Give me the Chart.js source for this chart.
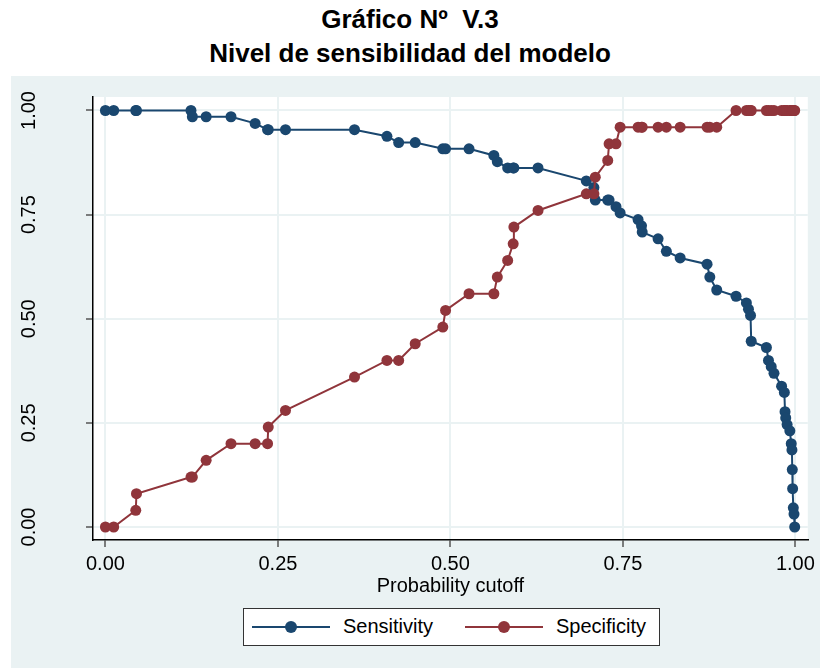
<!DOCTYPE html>
<html>
<head>
<meta charset="utf-8">
<script src="https://cdn.jsdelivr.net/npm/chart.js@4.4.1/dist/chart.umd.min.js"></script>
<style>
  html, body { margin: 0; padding: 0; background: #ffffff; }
  body { width: 820px; height: 668px; position: relative; overflow: hidden;
         font-family: "Liberation Sans", Arial, sans-serif; }
  #panel { position: absolute; left: 11px; top: 76px; width: 809px; height: 592px; background: #eaf2f3; }
  #title { position: absolute; left: 0; top: 2px; width: 820px; text-align: center;
           font-weight: bold; font-size: 26px; line-height: 34px; color: #000; }
  #chartBox { position: absolute; left: 0; top: 0; width: 820px; height: 668px; }
  #legend { position: absolute; left: 243px; top: 608px; width: 415px; height: 36px;
            background: #fff; border: 1px solid #333; }
  .key { position: absolute; top: 17px; width: 78px; height: 2px; }
  .dot { position: absolute; top: -5px; left: 33px; width: 12px; height: 12px; border-radius: 50%; }
  .lab { position: absolute; top: 5px; font-size: 20px; line-height: 24px; color: #000; }
</style>
</head>
<body>
<div id="panel"></div>
<div id="title">Gráfico Nº&nbsp; V.3<br>Nivel de sensibilidad del modelo</div>
<div id="chartBox"><canvas id="lsens" width="820" height="668"></canvas></div>
<div id="legend">
  <div class="key" style="left:8px;background:#1a476f"><div class="dot" style="background:#1a476f"></div></div>
  <div class="lab" style="left:99px">Sensitivity</div>
  <div class="key" style="left:221px;background:#90353b"><div class="dot" style="background:#90353b"></div></div>
  <div class="lab" style="left:312px">Specificity</div>
</div>
<script>
// probability cutoffs and the two curves
var cutoff = [0.000, 0.012, 0.044, 0.045, 0.124, 0.126, 0.146, 0.182, 0.217, 0.235,
              0.236, 0.261, 0.361, 0.408, 0.425, 0.449, 0.489, 0.493, 0.527, 0.563,
              0.568, 0.583, 0.591, 0.592, 0.627, 0.697, 0.708, 0.710, 0.728, 0.730,
              0.740, 0.746, 0.772, 0.777, 0.778, 0.801, 0.813, 0.833, 0.872, 0.876,
              0.886, 0.914, 0.929, 0.932, 0.935, 0.936, 0.958, 0.961, 0.965, 0.969,
              0.980, 0.984, 0.985, 0.986, 0.988, 0.992, 0.994, 0.995, 0.9955, 0.996,
              0.997, 0.998, 0.999];
var sensitivity = [1.000, 1.000, 1.000, 1.000, 1.000, 0.985, 0.985, 0.985, 0.969, 0.954,
              0.954, 0.954, 0.954, 0.938, 0.923, 0.923, 0.908, 0.908, 0.908, 0.892,
              0.877, 0.862, 0.862, 0.862, 0.862, 0.831, 0.815, 0.785, 0.785, 0.785,
              0.769, 0.754, 0.738, 0.723, 0.708, 0.692, 0.662, 0.646, 0.631, 0.600,
              0.569, 0.554, 0.538, 0.523, 0.508, 0.446, 0.431, 0.400, 0.385, 0.369,
              0.338, 0.323, 0.277, 0.262, 0.246, 0.231, 0.200, 0.185, 0.138, 0.092,
              0.046, 0.031, 0.000];
var specificity = [0.00, 0.00, 0.04, 0.08, 0.12, 0.12, 0.16, 0.20, 0.20, 0.20,
              0.24, 0.28, 0.36, 0.40, 0.40, 0.44, 0.48, 0.52, 0.56, 0.56,
              0.60, 0.64, 0.68, 0.72, 0.76, 0.80, 0.80, 0.84, 0.88, 0.92,
              0.92, 0.96, 0.96, 0.96, 0.96, 0.96, 0.96, 0.96, 0.96, 0.96,
              0.96, 1.00, 1.00, 1.00, 1.00, 1.00, 1.00, 1.00, 1.00, 1.00,
              1.00, 1.00, 1.00, 1.00, 1.00, 1.00, 1.00, 1.00, 1.00, 1.00,
              1.00, 1.00, 1.00];
var xTicks = [0, 0.25, 0.5, 0.75, 1];
var yTicks = [0, 0.25, 0.5, 0.75, 1];

var FONT = '"Liberation Sans", Arial, sans-serif';
var BLUE = '#1a476f', RED = '#90353b', GRIDC = '#eaf2f3';

function pairs(ys) {
  var out = [];
  for (var i = 0; i < cutoff.length; i++) out.push({x: cutoff[i], y: ys[i]});
  return out;
}

// white plot region + vertical y tick labels (Stata style)
var stataBits = {
  id: 'stataBits',
  beforeDraw: function (chart) {
    var a = chart.chartArea, ctx = chart.ctx;
    ctx.save();
    ctx.fillStyle = '#ffffff';
    ctx.fillRect(a.left, a.top, a.right - a.left, a.bottom - a.top);
    ctx.restore();
  },
  afterDraw: function (chart) {
    var ctx = chart.ctx, ys = chart.scales.y;
    ctx.save();
    ctx.fillStyle = '#000';
    ctx.font = '20px ' + FONT;
    ctx.textAlign = 'center';
    ctx.textBaseline = 'middle';
    ys.ticks.forEach(function (t) {
      var py = ys.getPixelForValue(t.value);
      ctx.save();
      ctx.translate(29, py);
      ctx.rotate(-Math.PI / 2);
      ctx.fillText(t.value.toFixed(2), 0, 0);
      ctx.restore();
    });
    ctx.restore();
  }
};

new Chart(document.getElementById('lsens'), {
  type: 'scatter',
  data: {
    datasets: [
      {
        label: 'Sensitivity',
        data: pairs(sensitivity),
        showLine: true,
        borderColor: BLUE, backgroundColor: BLUE,
        borderWidth: 2, pointRadius: 5.5, pointBorderWidth: 0,
        order: 1
      },
      {
        label: 'Specificity',
        data: pairs(specificity),
        showLine: true,
        borderColor: RED, backgroundColor: RED,
        borderWidth: 2, pointRadius: 5.5, pointBorderWidth: 0,
        order: 0
      }
    ]
  },
  options: {
    responsive: false,
    animation: false,
    events: [],
    layout: { padding: { top: 97, right: 9, left: 0, bottom: 70 } },
    plugins: { legend: { display: false }, title: { display: false }, tooltip: { enabled: false } },
    scales: {
      x: {
        type: 'linear', min: -0.018, max: 1.018,
        afterBuildTicks: function (s) { s.ticks = xTicks.map(function (v) { return {value: v}; }); },
        afterFit: function (s) { s.height = 58; },
        border: { color: '#000', width: 1.5 },
        grid: { color: GRIDC, lineWidth: 2, tickColor: '#555', tickLength: 7, tickWidth: 1.5 },
        ticks: {
          color: '#000', padding: 5, maxRotation: 0,
          font: { family: FONT, size: 20 },
          callback: function (v) { return Number(v).toFixed(2); }
        },
        title: { display: true, text: 'Probability cutoff', color: '#000', padding: 0,
                 font: { family: FONT, size: 20 } }
      },
      y: {
        type: 'linear', min: -0.0312, max: 1.0324,
        afterBuildTicks: function (s) { s.ticks = yTicks.map(function (v) { return {value: v}; }); },
        afterFit: function (s) { s.width = 93; },
        border: { color: '#000', width: 1.5 },
        grid: { color: GRIDC, lineWidth: 2, tickColor: '#555', tickLength: 7, tickWidth: 1.5 },
        ticks: { color: 'rgba(0,0,0,0)', font: { family: FONT, size: 20 } }
      }
    }
  },
  plugins: [stataBits]
});
</script>
</body>
</html>
